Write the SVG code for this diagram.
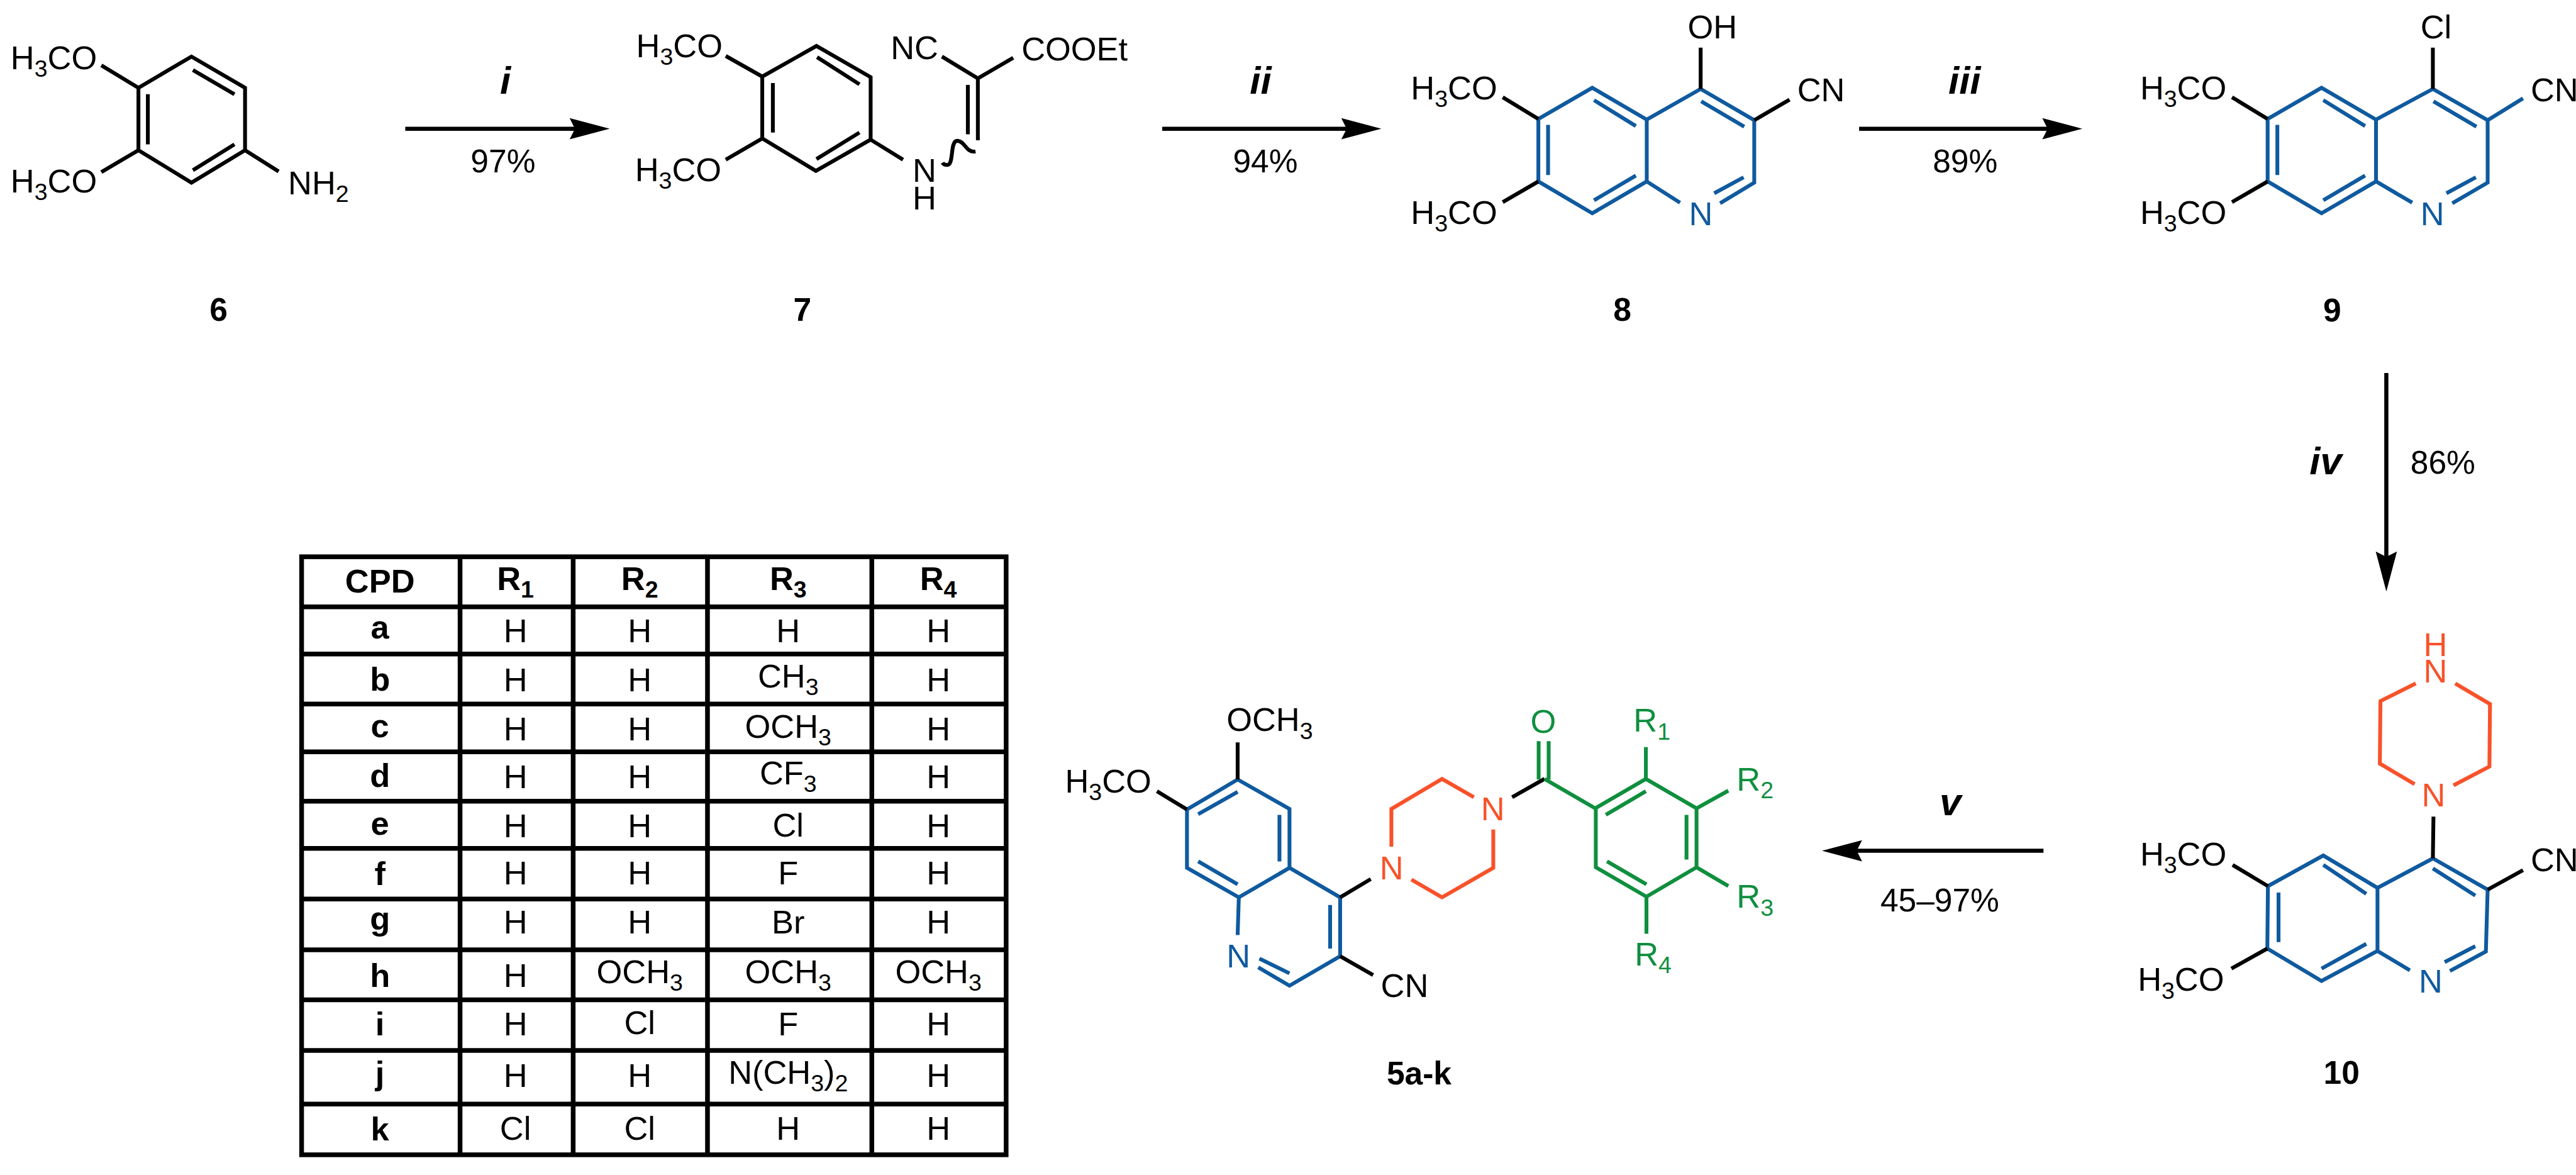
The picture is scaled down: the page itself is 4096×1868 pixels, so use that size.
<svg xmlns="http://www.w3.org/2000/svg" width="4096" height="1868" viewBox="0 0 4096 1868">
<style>
text{font-family:"Liberation Sans",Arial,sans-serif;font-size:56px;fill:#000}
.s{font-size:40px}
.l{font-weight:bold;font-size:55px;text-anchor:middle}
.r{font-weight:bold;font-style:italic;font-size:66px;text-anchor:middle}
.p{font-size:55px;text-anchor:middle}
.c{font-size:56px;text-anchor:middle}
.h{font-size:56px;font-weight:bold;text-anchor:middle}
.k,.u,.o,.g{fill:none;stroke-width:6.5;stroke-linejoin:miter;stroke-linecap:butt}
.k{stroke:#000}.u{stroke:#0f5a9f}.o{stroke:#f8522a}.g{stroke:#0f8f3e}
.tu{fill:#0f5a9f}.to{fill:#f8522a}.tg{fill:#0f8f3e}
.a{stroke:#000;stroke-width:7;fill:none;marker-end:url(#head)}
.t1{fill:none;stroke:#000;stroke-width:8}
</style>
<defs>
<marker id="head" markerUnits="userSpaceOnUse" markerWidth="80" markerHeight="50" refX="40" refY="25" viewBox="0 0 80 50" orient="auto"><path d="M80,25 L12,7 L21,25 L12,43 Z" fill="#000"/></marker>
</defs>
<rect width="4096" height="1868" fill="#fff"/>
<g transform="scale(0.93666)">
<g id="connectors">
<line class="a" x1="688" y1="218.5" x2="995" y2="218.5"/>
<line class="a" x1="1973" y1="218.5" x2="2305" y2="218.5"/>
<line class="a" x1="3156" y1="218.5" x2="3495" y2="218.5"/>
<line class="a" x1="4051" y1="633" x2="4051" y2="964"/>
<line class="a" x1="3469" y1="1444" x2="3133" y2="1444"/>
</g>
<g id="arrow-labels">
<text class="r" x="858" y="159">i</text><text class="p" x="854" y="293">97%</text>
<text class="r" x="2140" y="159">ii</text><text class="p" x="2148" y="293">94%</text>
<text class="r" x="3335" y="159">iii</text><text class="p" x="3336" y="293">89%</text>
<text class="r" x="3948" y="805">iv</text><text class="p" x="4147" y="804">86%</text>
<text class="r" x="3311" y="1384">v</text><text class="p" x="3293" y="1547">45–97%</text>
</g>
<g id="mol-6">
<path class="k" d="M235,149 L325,96 L416,149 L416,255 L325,310 L235,255 Z M251,160 V245 M327.5,119 L398,160 M327.5,289 L398,245 M235,149 L172,111 M235,255 L172,292 M416,255 L473,291"/>
<text x="18" y="117">H<tspan class="s" dy="13">3</tspan><tspan dy="-13">CO</tspan></text>
<text x="18" y="327">H<tspan class="s" dy="13">3</tspan><tspan dy="-13">CO</tspan></text>
<text x="489" y="330">NH<tspan class="s" dy="13">2</tspan></text>
<text class="l" x="371" y="544">6</text>
</g>
<g id="mol-7">
<path class="k" d="M1294,130 L1386,78 L1478,131 L1478,237 L1385,290 L1294,235 Z M1312,141 V225 M1387,97 L1459,143 M1386,270 L1459,225 M1294,130 L1232,95 M1294,235 L1232,271 M1478,237 L1533,271 M1660,133 L1599,96 M1660,133 L1720,98 M1660,133 V238 M1643,144 V228 M1656,257 C1640,260 1638,239 1625,239 C1612,239 1620,280 1608,280 C1604,280 1601,278 1600,276"/>
<text x="1080" y="97">H<tspan class="s" dy="13">3</tspan><tspan dy="-13">CO</tspan></text>
<text x="1078" y="307">H<tspan class="s" dy="13">3</tspan><tspan dy="-13">CO</tspan></text>
<text x="1512" y="100">NC</text>
<text x="1734" y="102">COOEt</text>
<text x="1549" y="309">N<tspan x="1549" dy="47">H</tspan></text>
<text class="l" x="1362" y="544">7</text>
</g>
<g id="mol-8">
<path class="u" d="M2611.5,202 L2703,149 L2795.5,203 L2795.5,308 L2703,362 L2611.5,308 Z M2795.5,203 L2887,151 L2978,204 V310 L2920,345 M2795.5,308 L2852,344 M2628,212 V297 M2706,170 L2777,214 M2706,340 L2777,298 M2888,172 L2961,215 M2960,301 L2910,328"/>
<path class="k" d="M2611.5,202 L2551,165 M2611.5,308 L2551,343 M2887,151 V81 M2978,204 L3038,169"/>
<text x="2395" y="169">H<tspan class="s" dy="13">3</tspan><tspan dy="-13">CO</tspan></text>
<text x="2395" y="380">H<tspan class="s" dy="13">3</tspan><tspan dy="-13">CO</tspan></text>
<text x="2865" y="65">OH</text>
<text x="3051" y="172">CN</text>
<text class="tu" x="2867" y="382">N</text>
<text class="l" x="2754" y="544">8</text>
</g>
<g id="mol-9" transform="translate(1238 0)">
<path class="u" d="M2611.5,202 L2703,149 L2795.5,203 L2795.5,308 L2703,362 L2611.5,308 Z M2795.5,203 L2892,151 L2985,204 V310 L2925,345 M2795.5,308 L2857,344 M2628,212 V297 M2706,170 L2777,214 M2706,340 L2777,298 M2893,172 L2966,215 M2965,301 L2915,328"/>
<path class="k" d="M2611.5,202 L2551,165 M2611.5,308 L2551,343 M2892,151 V81"/>
<path class="u" d="M2985,204 L3045,167"/>
<text x="2395" y="169">H<tspan class="s" dy="13">3</tspan><tspan dy="-13">CO</tspan></text>
<text x="2395" y="380">H<tspan class="s" dy="13">3</tspan><tspan dy="-13">CO</tspan></text>
<text x="2871" y="65">Cl</text>
<text x="3058" y="172">CN</text>
<text class="tu" x="2871" y="382">N</text>
<text class="l" x="2721" y="546">9</text>
</g>
<g id="mol-10">
<path class="u" d="M3850,1504 L3944,1452 L4036,1507 L4036,1614 L3941,1665 L3849,1610 Z M4036,1507 L4130,1457 L4223,1510 L4220,1615 L4159,1648 M4036,1614 L4091,1647 M3868,1515 V1599 M3944,1468 L4017,1517 M3941,1644 L4017,1602 M4130,1474 L4202,1520 M4150,1633 L4202,1606"/>
<path class="o" d="M4101,1160 L4041,1190 L4040,1296 L4099,1331 M4168,1160 L4227,1195 L4226,1301 L4165,1333"/>
<path class="k" d="M4131,1386 L4130,1457 M3850,1504 L3790,1468 M3849,1610 L3788,1644 M4223,1510 L4283,1477"/>
<text x="3633" y="1469">H<tspan class="s" dy="13">3</tspan><tspan dy="-13">CO</tspan></text>
<text x="3629" y="1682">H<tspan class="s" dy="13">3</tspan><tspan dy="-13">CO</tspan></text>
<text x="4296" y="1479">CN</text>
<text class="tu" x="4106" y="1685">N</text>
<text class="to" x="4111" y="1369">N</text>
<text class="to" x="4114" y="1113">H<tspan x="4114" dy="45">N</tspan></text>
<text class="l" x="3975" y="1840">10</text>
</g>
<g id="mol-5a-k">
<path class="u" d="M2015,1374 L2101,1323 L2189,1373 L2189,1473 L2103,1523 L2015,1473 Z M2189,1473 L2275,1523 V1623 L2189,1673 L2136,1642 M2103,1523 L2101,1587 M2138,1627 L2189,1652 M2034,1382 L2101,1344 M2172,1383 V1462 M2034,1462 L2101,1501 M2258,1536 V1610"/>
<path class="k" d="M2101,1323 V1260 M2015,1374 L1964,1343 M2275,1623 L2331,1655 M2275,1523 L2327,1492 M2567,1353 L2622,1322"/>
<path class="o" d="M2362,1437 V1373 L2448,1322 L2502,1353 M2535,1408 V1473 L2448,1523 L2396,1493"/>
<path class="g" d="M2612,1258 V1323 M2629,1258 V1323 M2622,1322 L2708,1372 L2794,1322 L2880,1372 V1472 L2795,1522 L2709,1472 V1372 M2726,1383 L2794,1343 M2863,1383 V1459 M2728,1462 L2795,1501 M2794,1322 V1268 M2880,1372 L2934,1342 M2880,1472 L2934,1504 M2795,1522 V1585"/>
<text x="2082" y="1241">OCH<tspan class="s" dy="13">3</tspan></text>
<text x="1808" y="1345">H<tspan class="s" dy="13">3</tspan><tspan dy="-13">CO</tspan></text>
<text x="2344" y="1692">CN</text>
<text class="tu" x="2082" y="1642">N</text>
<text class="to" x="2342" y="1493">N</text>
<text class="to" x="2514" y="1392">N</text>
<text class="tg" x="2598" y="1244">O</text>
<text class="tg" x="2773" y="1242">R<tspan class="s" dy="13">1</tspan></text>
<text class="tg" x="2948" y="1342">R<tspan class="s" dy="13">2</tspan></text>
<text class="tg" x="2948" y="1541">R<tspan class="s" dy="13">3</tspan></text>
<text class="tg" x="2775" y="1639">R<tspan class="s" dy="13">4</tspan></text>
<text class="l" x="2409" y="1841">5a-k</text>
</g>
<g id="table">
<rect class="t1" x="512" y="945" width="1196" height="1015"/>
<path class="t1" d="M781,945 V1960 M973,945 V1960 M1201,945 V1960 M1480,945 V1960 M512,1030 H1708 M512,1110 H1708 M512,1195 H1708 M512,1276 H1708 M512,1360 H1708 M512,1440 H1708 M512,1526 H1708 M512,1612 H1708 M512,1697 H1708 M512,1783 H1708 M512,1874 H1708"/>
<text class="h" x="645" y="1006">CPD</text>
<text class="h" x="875" y="1001">R<tspan class="s" dy="13">1</tspan></text>
<text class="h" x="1086" y="1001">R<tspan class="s" dy="13">2</tspan></text>
<text class="h" x="1338" y="1001">R<tspan class="s" dy="13">3</tspan></text>
<text class="h" x="1593" y="1001">R<tspan class="s" dy="13">4</tspan></text>
<text class="h" x="645" y="1084">a</text><text class="c" x="875" y="1090">H</text><text class="c" x="1086" y="1090">H</text><text class="c" x="1338" y="1090">H</text><text class="c" x="1593" y="1090">H</text>
<text class="h" x="645" y="1172">b</text><text class="c" x="875" y="1173">H</text><text class="c" x="1086" y="1173">H</text><text class="c" x="1338" y="1167">CH<tspan class="s" dy="13">3</tspan></text><text class="c" x="1593" y="1173">H</text>
<text class="h" x="645" y="1251">c</text><text class="c" x="875" y="1257">H</text><text class="c" x="1086" y="1257">H</text><text class="c" x="1338" y="1252">OCH<tspan class="s" dy="13">3</tspan></text><text class="c" x="1593" y="1257">H</text>
<text class="h" x="645" y="1336">d</text><text class="c" x="875" y="1338">H</text><text class="c" x="1086" y="1338">H</text><text class="c" x="1338" y="1331">CF<tspan class="s" dy="13">3</tspan></text><text class="c" x="1593" y="1338">H</text>
<text class="h" x="645" y="1417">e</text><text class="c" x="875" y="1421">H</text><text class="c" x="1086" y="1421">H</text><text class="c" x="1338" y="1420">Cl</text><text class="c" x="1593" y="1421">H</text>
<text class="h" x="645" y="1502">f</text><text class="c" x="875" y="1501">H</text><text class="c" x="1086" y="1501">H</text><text class="c" x="1338" y="1501">F</text><text class="c" x="1593" y="1501">H</text>
<text class="h" x="645" y="1578">g</text><text class="c" x="875" y="1584">H</text><text class="c" x="1086" y="1584">H</text><text class="c" x="1338" y="1584">Br</text><text class="c" x="1593" y="1584">H</text>
<text class="h" x="645" y="1675">h</text><text class="c" x="875" y="1675">H</text><text class="c" x="1086" y="1669">OCH<tspan class="s" dy="13">3</tspan></text><text class="c" x="1338" y="1669">OCH<tspan class="s" dy="13">3</tspan></text><text class="c" x="1593" y="1669">OCH<tspan class="s" dy="13">3</tspan></text>
<text class="h" x="645" y="1757">i</text><text class="c" x="875" y="1757">H</text><text class="c" x="1086" y="1755">Cl</text><text class="c" x="1338" y="1757">F</text><text class="c" x="1593" y="1757">H</text>
<text class="h" x="645" y="1841">j</text><text class="c" x="875" y="1845">H</text><text class="c" x="1086" y="1845">H</text><text class="c" x="1338" y="1839">N(CH<tspan class="s" dy="13">3</tspan><tspan dy="-13">)</tspan><tspan class="s" dy="13">2</tspan></text><text class="c" x="1593" y="1845">H</text>
<text class="h" x="645" y="1936">k</text><text class="c" x="875" y="1934">Cl</text><text class="c" x="1086" y="1934">Cl</text><text class="c" x="1338" y="1934">H</text><text class="c" x="1593" y="1934">H</text>
</g>
</g>
</svg>
